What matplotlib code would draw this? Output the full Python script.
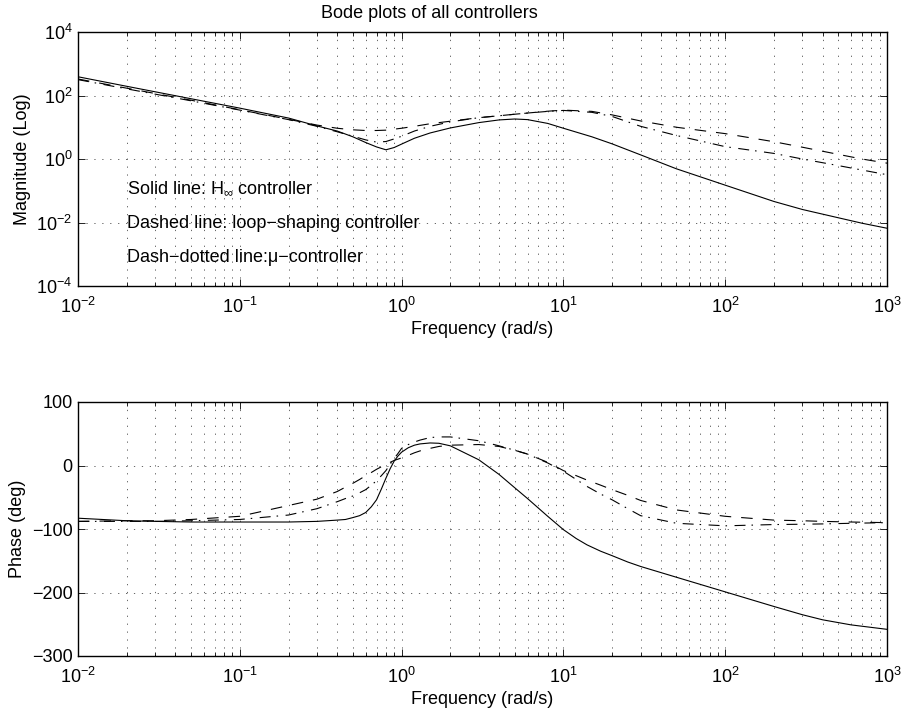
import matplotlib
matplotlib.use("Agg")
import matplotlib.pyplot as plt
from matplotlib.ticker import LogLocator, NullLocator, FixedLocator

plt.rcParams['font.family'] = ['Liberation Sans', 'DejaVu Sans']
plt.rcParams['font.size'] = 13
plt.rcParams['mathtext.fontset'] = 'custom'
plt.rcParams['mathtext.rm'] = 'Liberation Sans'
plt.rcParams['mathtext.it'] = 'Liberation Sans:italic'
plt.rcParams['mathtext.bf'] = 'Liberation Sans:bold'
plt.rcParams['lines.scale_dashes'] = False

# magnitude data
mag_freq = [0.01, 0.02, 0.05, 0.1, 0.2, 0.3, 0.4, 0.5, 0.6, 0.7, 0.8, 0.9,
            1.0, 1.2, 1.5, 2, 3, 4, 5, 6, 8, 10, 15, 20, 30, 50, 100, 200,
            300, 500, 700, 1000]
mag_hinf = [389, 195, 79, 40, 19.5, 11, 7.6, 5.0, 3.3, 2.4, 1.95, 2.3,
            2.95, 4.5, 6.6, 9.5, 14, 17, 18.2, 17.4, 13.2, 9.3, 5.0, 3.0,
            1.35, 0.49, 0.15, 0.046, 0.0257, 0.0141, 0.0095, 0.0066]
mag_loop = [331, 170, 71, 35.5, 17.8, 11.7, 9.3, 8.3, 7.9, 7.9, 8.1, 8.7,
            9.3, 10.7, 12.9, 15.5, 20, 23, 25.7, 28, 32, 34.7, 31.6, 24.5,
            15.8, 10, 6.3, 3.5, 2.35, 1.4, 1.0, 0.74]
mag_mu = [316, 162, 68, 34.7, 17.4, 10.7, 7.2, 5.2, 4.0, 3.4, 3.55, 4.3,
          5.2, 7.6, 10.7, 14.8, 20, 23, 25.7, 28, 31.6, 33.9, 29.5, 21.9,
          10.7, 5.5, 2.45, 1.5, 1.0, 0.62, 0.45, 0.32]

# phase data (deg)
ph_freq = [0.01, 0.02, 0.03, 0.05, 0.1, 0.2, 0.3, 0.4, 0.45, 0.5, 0.55, 0.6,
           0.65, 0.7, 0.75, 0.8, 0.85, 0.9, 0.95, 1.0, 1.1, 1.2, 1.3, 1.5,
           1.7, 2, 3, 4, 5, 6, 8, 10, 12, 14, 17, 20, 25, 30, 50, 100, 200,
           300, 400, 600, 1000]
ph_hinf = [-83, -87, -88, -89, -89, -89, -88, -86, -85, -82, -79, -74,
           -65, -54, -37, -20, -5, 7, 15, 21, 28, 32, 34, 35.5,
           35, 31, 9, -14, -35, -52, -80, -101, -115, -125, -135, -142,
           -152, -159, -176, -199, -222, -235, -243, -251, -258]
ph_loop = [-88, -87, -87, -85, -80, -63, -53, -41, -34, -28, -22, -16,
           -11, -6, -2, 2, 5, 8, 10, 12, 16, 20, 23, 27,
           30, 32, 33, 30, 24, 18, 5, -8, -16, -23, -31, -38,
           -47, -55, -70, -80, -86, -87, -88, -89, -90]
ph_mu = [-88, -88, -88, -87, -85, -78, -68, -57, -52, -48, -43, -38,
         -31, -24, -16, -8, 2, 11, 19, 27, 33, 37, 40, 44,
         45, 45, 39, 31, 24, 18, 4, -9, -22, -33, -45, -54,
         -68, -79, -91, -95, -93, -92.5, -92, -91, -90]

title = 'Bode plots of all controllers'
notes = [r'Solid line: H$_{\infty}$ controller',
         'Dashed line: loop\u2212shaping controller',
         'Dash\u2212dotted line:\u03bc\u2212controller']

DASHED = (0, (8.3, 7.2))
DASHDOT = (0, (7.9, 4.3, 1.1, 5.4))
GRID = (0, (0.9, 4.8))


def style_axes(ax):
    ax.set_xscale('log')
    ax.set_xlim(1e-2, 1e3)
    ax.xaxis.set_major_locator(LogLocator(base=10, numticks=10))
    ax.xaxis.set_minor_locator(LogLocator(base=10, subs=range(2, 10), numticks=20))
    ax.tick_params(which='both', direction='in', top=True, right=True,
                   width=0.6, labelsize=13, pad=4)
    ax.tick_params(axis='x', which='both', pad=7.5)
    ax.tick_params(which='major', length=5)
    ax.tick_params(which='minor', length=3)
    ax.grid(True, which='major', axis='both', color='0.3',
            linestyle=GRID, linewidth=0.6)
    ax.grid(True, which='minor', axis='x', color='0.3',
            linestyle=GRID, linewidth=0.6)
    for sp in ax.spines.values():
        sp.set_linewidth(1.0)
    ax.set_xlabel('Frequency (rad/s)', labelpad=3)


fig = plt.figure(figsize=(9.05, 7.13), dpi=100)
ax1 = fig.add_axes([78 / 905, 1 - 286 / 713, 809 / 905, 254 / 713])
ax2 = fig.add_axes([78 / 905, 1 - 656 / 713, 809 / 905, 254 / 713])

ax1.plot(mag_freq, mag_hinf, color='k', lw=0.8)
ax1.plot(mag_freq, mag_loop, color='k', lw=0.8, linestyle=DASHED)
ax1.plot(mag_freq, mag_mu, color='k', lw=0.8, linestyle=DASHDOT)
ax1.set_yscale('log')
style_axes(ax1)
ax1.set_ylim(1e-4, 1e4)
ax1.yaxis.set_major_locator(FixedLocator([1e-4, 1e-2, 1, 1e2, 1e4]))
ax1.yaxis.set_minor_locator(NullLocator())
ax1.set_ylabel('Magnitude (Log)')

for txt, yv in zip(notes, [0.083, 0.0066, 0.00059]):
    ax1.text(0.02, yv, txt, va='baseline', ha='left', fontsize=13)

ax2.plot(ph_freq, ph_hinf, color='k', lw=0.8)
ax2.plot(ph_freq, ph_loop, color='k', lw=0.8, linestyle=DASHED)
ax2.plot(ph_freq, ph_mu, color='k', lw=0.8, linestyle=DASHDOT)
style_axes(ax2)
ax2.set_ylim(-300, 100)
ax2.set_yticks([-300, -200, -100, 0, 100])
ax2.yaxis.set_minor_locator(NullLocator())
ax2.set_ylabel('Phase (deg)')

fig.text(429 / 905, 1 - 13 / 713, title, ha='center', va='center', fontsize=13)

fig.savefig('out.png', dpi=100)
